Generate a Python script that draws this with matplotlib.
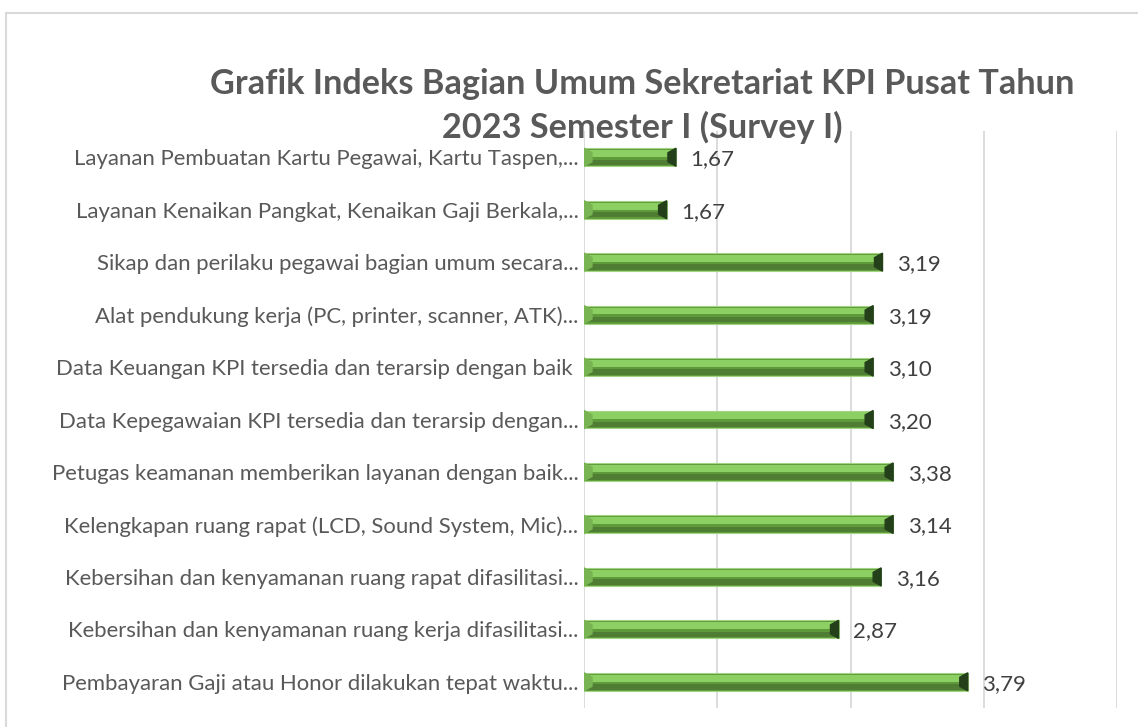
import matplotlib.pyplot as plt
from matplotlib.patches import Polygon, Rectangle

plt.rcParams['font.family'] = ['Lato', 'DejaVu Sans']

# kategori (urutan dari atas ke bawah)
kategori = [
    "Layanan Pembuatan Kartu Pegawai, Kartu Taspen,...",
    "Layanan Kenaikan Pangkat, Kenaikan Gaji Berkala,...",
    "Sikap dan perilaku pegawai bagian umum secara...",
    "Alat pendukung kerja (PC, printer, scanner, ATK)...",
    "Data Keuangan KPI tersedia dan terarsip dengan baik ",
    "Data Kepegawaian KPI tersedia dan terarsip dengan...",
    "Petugas keamanan memberikan layanan dengan baik...",
    "Kelengkapan ruang rapat (LCD, Sound System, Mic)...",
    "Kebersihan dan kenyamanan ruang rapat difasilitasi...",
    "Kebersihan dan kenyamanan ruang kerja difasilitasi...",
    "Pembayaran Gaji atau Honor dilakukan tepat waktu...",
]
# panjang batang seperti yang terlihat di grafik
nilai_batang = [1.69, 1.62, 3.24, 3.17, 3.17, 3.17, 3.32, 3.32, 3.23, 2.91, 3.88]
# label data yang tertulis
label_nilai = ["1,67", "1,67", "3,19", "3,19", "3,10", "3,20", "3,38", "3,14", "3,16", "2,87", "3,79"]

judul = "Grafik Indeks Bagian Umum Sekretariat KPI Pusat Tahun\n2023 Semester I (Survey I)"

fig = plt.figure(figsize=(11.38, 7.27), dpi=100)
# bingkai chart
fig.patches.append(Rectangle((6/1138, -0.1), 1.2, 1 - 13/727 + 0.1, transform=fig.transFigure,
                             fill=False, edgecolor='#d9d9d9', linewidth=1.5))

ax = fig.add_axes([584/1138, 19/727, 533/1138, 577/727])
h = 0.343
x0 = 1.0
for i, v in enumerate(nilai_batang):
    ax.barh(i, v - x0, left=x0, height=h, color='#5f9a3a', edgecolor='#a3d484', linewidth=0.8, zorder=3)
    ax.barh(i - h*0.2, v - x0 - 0.02, left=x0, height=h*0.38, color='#8ccf62', linewidth=0, zorder=4)
    ax.barh(i + h*0.28, v - x0 - 0.02, left=x0, height=h*0.3, color='#4f7d33', linewidth=0, zorder=4)
    ax.add_patch(Polygon([(v, i - h/2), (v, i + h/2), (v - 0.06, i + h*0.25), (v - 0.06, i - h*0.25)],
                         closed=True, color='#23401a', zorder=5))
    ax.add_patch(Polygon([(x0, i - h/2), (x0, i + h/2), (x0 + 0.06, i + h*0.25), (x0 + 0.06, i - h*0.25)],
                         closed=True, color='#78b452', zorder=5))
    ax.text(v + 0.11, i + 0.04, label_nilai[i], va='center', ha='left', fontsize=16, color='#404040')

ax.set_xlim(1, 5)
ax.set_ylim(len(kategori) - 0.5, -0.5)
ax.set_xticks([1, 2, 3, 4, 5])
ax.set_xticklabels([])
ax.tick_params(axis='x', length=0)
ax.set_yticks(range(len(kategori)))
ax.set_yticklabels(kategori, fontsize=15.9, color='#595959')
ax.tick_params(axis='y', length=0, pad=4)
ax.grid(axis='x', color='#d9d9d9', linewidth=1.3, zorder=0)
for s in ax.spines.values():
    s.set_visible(False)

fig.text(642/1138, 1 - 106/727, judul, ha='center', va='center', fontsize=24.7, fontweight='bold',
         color='#595959', linespacing=1.4)

fig.savefig("out.png", dpi=100)
